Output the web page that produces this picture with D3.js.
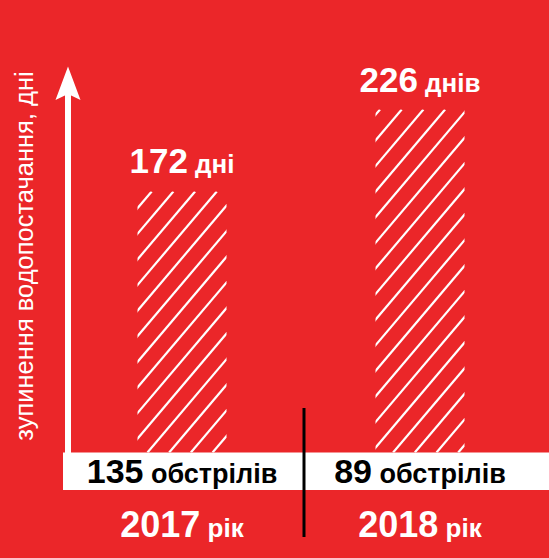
<!DOCTYPE html>
<html>
<head>
<meta charset="utf-8">
<script src="https://cdn.jsdelivr.net/npm/d3@7"></script>
<style>
  html, body { margin: 0; padding: 0; background: #EB2629; }
  svg { display: block; }
  text { font-family: "Liberation Sans", Arial, Helvetica, sans-serif; }
</style>
</head>
<body>
<svg id="chart" width="549" height="558"></svg>
<script>
// ---- data ----
const years = ["2017", "2018"];
const yearUnit = "рік";
const daysValues = [172, 226];
const daysUnits = ["дні", "днів"];
const shellingValues = [135, 89];
const shellingUnit = "обстрілів";
const yAxisLabel = "зупинення водопостачання, дні";

// ---- layout ----
const W = 549, H = 558;
const RED = "#EB2629";
const svg = d3.select("#chart");
svg.append("rect").attr("width", W).attr("height", H).attr("fill", RED);

const axisX = 68;           // centre of y-axis shaft
const baseY = 452.5;        // top of white band = bar baseline
const bandBottom = 490;

const x = d3.scaleBand().domain(years).range([63, 539])
  .paddingInner(0.626).paddingOuter(0.313);
const y = d3.scaleLinear().domain([0, d3.max(daysValues)]).range([baseY, 109.5]);

// white band
svg.append("rect").attr("x", 63).attr("y", baseY).attr("width", W - 63)
  .attr("height", bandBottom - baseY).attr("fill", "#fff");

// y axis shaft + arrow head
svg.append("rect").attr("x", axisX - 3).attr("y", 90).attr("width", 6)
  .attr("height", baseY - 90 + 1).attr("fill", "#fff");
svg.append("path")
  .attr("d", `M${axisX},66.5 L${axisX + 12.5},100 L${axisX},94 L${axisX - 12.5},100 Z`)
  .attr("fill", "#fff");

// y axis label
svg.append("text")
  .attr("transform", `translate(33,256) rotate(-90)`)
  .attr("text-anchor", "middle")
  .attr("font-size", 25.5)
  .attr("fill", "#fff")
  .text(yAxisLabel);

// hatched bars
const hatchSpacing = 21.7, hatchSlope = 1.18;
const hatchOffsets = [14.2, 4.5];
const defs = svg.append("defs");
years.forEach((yr, i) => {
  const x0 = x(yr), w = x.bandwidth();
  const yTop = y(daysValues[i]), h = baseY - yTop;
  const id = "clip" + i;
  defs.append("clipPath").attr("id", id).append("rect")
    .attr("x", x0).attr("y", yTop).attr("width", w).attr("height", h);
  const g = svg.append("g").attr("clip-path", `url(#${id})`);
  const run = h / hatchSlope;
  const kMax = Math.ceil((w + run) / hatchSpacing) + 1;
  for (let k = -1; k <= kMax; k++) {
    const xt = x0 + hatchOffsets[i] + k * hatchSpacing;
    g.append("line")
      .attr("x1", xt).attr("y1", yTop)
      .attr("x2", xt - run).attr("y2", baseY)
      .attr("stroke", "#fff").attr("stroke-width", 2.2);
  }
});

// value labels above bars
years.forEach((yr, i) => {
  const cx = x(yr) + x.bandwidth() / 2;
  const t = svg.append("text")
    .attr("x", cx).attr("y", y(daysValues[i]) - 18)
    .attr("text-anchor", "middle").attr("fill", "#fff").attr("font-weight", "bold");
  t.append("tspan").attr("font-size", 35).text(daysValues[i]);
  t.append("tspan").attr("font-size", 26).text(" " + daysUnits[i]);
});

// shelling labels in white band
years.forEach((yr, i) => {
  const cx = x(yr) + x.bandwidth() / 2;
  const t = svg.append("text")
    .attr("x", cx).attr("y", 482.7)
    .attr("text-anchor", "middle").attr("fill", "#000").attr("font-weight", "bold");
  t.append("tspan").attr("font-size", 34).text(shellingValues[i]);
  t.append("tspan").attr("font-size", 27).text(" " + shellingUnit);
});

// year labels
years.forEach((yr, i) => {
  const cx = x(yr) + x.bandwidth() / 2;
  const t = svg.append("text")
    .attr("x", cx).attr("y", 537.3)
    .attr("text-anchor", "middle").attr("fill", "#fff").attr("font-weight", "bold");
  t.append("tspan").attr("font-size", 36).text(yr);
  t.append("tspan").attr("font-size", 26).text(" " + yearUnit);
});

// divider
const divX = x(years[0]) + x.step() / 2 + x.bandwidth() / 2 + 3;
svg.append("line").attr("x1", divX).attr("x2", divX).attr("y1", 408).attr("y2", 537)
  .attr("stroke", "#000").attr("stroke-width", 3);
</script>
</body>
</html>
